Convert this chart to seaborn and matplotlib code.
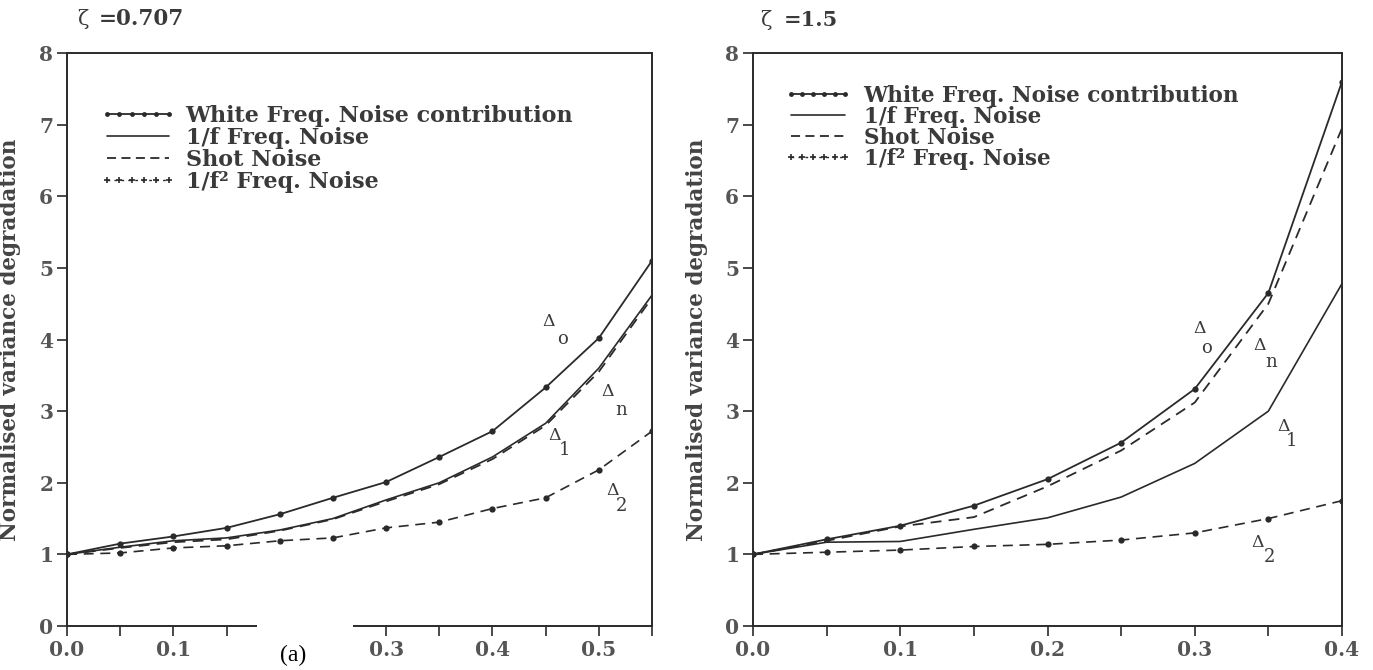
import numpy as np
import pandas as pd
import matplotlib
matplotlib.use("Agg")
import matplotlib.pyplot as plt
from matplotlib.lines import Line2D
from matplotlib.patches import Rectangle
from matplotlib.ticker import MultipleLocator
import seaborn as sns

# ---------------- data ----------------
x_left = [0.0, 0.05, 0.10, 0.15, 0.20, 0.25, 0.30, 0.35, 0.40, 0.45, 0.50, 0.55]
white_left = [1.0, 1.15, 1.25, 1.37, 1.56, 1.79, 2.01, 2.36, 2.72, 3.33, 4.02, 5.10]
inv_f_left = [1.0, 1.10, 1.19, 1.23, 1.34, 1.50, 1.76, 2.00, 2.36, 2.83, 3.60, 4.62]
shot_left = [1.0, 1.09, 1.17, 1.21, 1.33, 1.49, 1.74, 1.98, 2.33, 2.80, 3.55, 4.58]
inv_f2_left = [1.0, 1.02, 1.09, 1.12, 1.19, 1.23, 1.37, 1.45, 1.64, 1.79, 2.18, 2.72]

x_right = [0.0, 0.05, 0.10, 0.15, 0.20, 0.25, 0.30, 0.35, 0.40]
white_right = [1.0, 1.21, 1.40, 1.68, 2.05, 2.56, 3.31, 4.65, 7.60]
shot_right = [1.0, 1.19, 1.39, 1.52, 1.95, 2.45, 3.12, 4.50, 6.95]
inv_f_right = [1.0, 1.17, 1.18, 1.35, 1.51, 1.80, 2.27, 3.00, 4.78]
inv_f2_right = [1.0, 1.03, 1.06, 1.11, 1.14, 1.20, 1.30, 1.50, 1.75]

legend_labels = ["White Freq. Noise contribution", "1/f Freq. Noise",
                 "Shot Noise", "1/f\u00b2 Freq. Noise"]
titles = ["=0.707", "=1.5"]
ylabel = "Normalised variance degradation"
x_ticks_left = [0.0, 0.1, 0.2, 0.3, 0.4, 0.5]
x_ticklabels_left = ["0.0", "0.1", "", "0.3", "0.4", "0.5"]   # 0.2 hidden under the pasted "(a)"
x_ticks_right = [0.0, 0.1, 0.2, 0.3, 0.4]
x_ticklabels_right = ["0.0", "0.1", "0.2", "0.3", "0.4"]
y_ticks = [0, 1, 2, 3, 4, 5, 6, 7, 8]

# curve labels: (main symbol position, subscript, subscript position)
labels_left = [((0.453, 4.25), "o", (0.466, 4.00)),
               ((0.508, 3.27), "n", (0.521, 3.02)),
               ((0.458, 2.66), "1", (0.468, 2.46)),
               ((0.513, 1.89), "2", (0.521, 1.67))]
labels_right = [((0.303, 4.15), "o", (0.308, 3.88)),
                ((0.344, 3.92), "n", (0.352, 3.68)),
                ((0.360, 2.78), "1", (0.366, 2.58)),
                ((0.343, 1.17), "2", (0.351, 0.97))]

# ---------------- style ----------------
sns.set_style("ticks")
plt.rcParams["font.family"] = ["DejaVu Serif", "DejaVu Sans"]
INK = "#2a2a2a"
TXT = "#3a3a3a"

W, H = 1373, 670
fig = plt.figure(figsize=(W / 100, H / 100), dpi=100)
fig.patch.set_facecolor("white")

def fx(px):
    return px / W

def fy(py):
    return 1 - py / H

ax_l = fig.add_axes([fx(67), fy(626), fx(652 - 67), fy(53) - fy(626)])
ax_r = fig.add_axes([fx(753), fy(626), fx(1342 - 753), fy(53) - fy(626)])

dash = (0, (6, 4))

def draw(ax, x, white, inv_f, shot, inv_f2):
    df = pd.DataFrame({"x": x, "white": white, "inv_f": inv_f,
                       "shot": shot, "inv_f2": inv_f2})
    sns.lineplot(data=df, x="x", y="white", ax=ax, color=INK, lw=1.3,
                 marker="o", markersize=4.5, markeredgewidth=0, sort=False)
    sns.lineplot(data=df, x="x", y="inv_f", ax=ax, color=INK, lw=1.2, sort=False)
    sns.lineplot(data=df, x="x", y="shot", ax=ax, color=INK, lw=1.3,
                 linestyle=dash, sort=False)
    sns.lineplot(data=df, x="x", y="inv_f2", ax=ax, color=INK, lw=1.2,
                 linestyle=dash, marker="o", markersize=4.5,
                 markeredgewidth=0, sort=False)

draw(ax_l, x_left, white_left, inv_f_left, shot_left, inv_f2_left)
draw(ax_r, x_right, white_right, inv_f_right, shot_right, inv_f2_right)

for ax, xmax, xt, xtl, ylab_x in [(ax_l, 0.55, x_ticks_left, x_ticklabels_left, -0.078),
                                 (ax_r, 0.40, x_ticks_right, x_ticklabels_right, -0.077)]:
    ax.set_xlim(0, xmax)
    ax.set_ylim(0, 8)
    ax.set_xticks(xt)
    ax.set_xticklabels(xtl)
    ax.xaxis.set_minor_locator(MultipleLocator(0.05))
    ax.set_yticks(y_ticks)
    ax.set_yticklabels([str(t) for t in y_ticks])
    ax.tick_params(axis="both", which="both", direction="out", length=7,
                   width=1.2, color=INK, labelcolor="#555555",
                   labelsize=14.5, pad=3)
    for lab in ax.get_xticklabels() + ax.get_yticklabels():
        lab.set_fontweight("bold")
    for sp in ax.spines.values():
        sp.set_visible(True)
        sp.set_color(INK)
        sp.set_linewidth(1.4)
    ax.set_xlabel("")
    ax.set_ylabel(ylabel, fontsize=15.5, fontweight="bold", color="#444444")
    ax.yaxis.set_label_coords(ylab_x, 0.5)

# curve labels
for ax, labs in [(ax_l, labels_left), (ax_r, labels_right)]:
    for (mx, my), sub, (sx, sy) in labs:
        ax.text(mx, my, "\u0394", fontsize=12.5, color=TXT, ha="center", va="center")
        ax.text(sx, sy, sub, fontsize=13, color=TXT, ha="center", va="center")

# legends
def legend_handles():
    return [
        Line2D([], [], color=INK, lw=1.3, marker="o", markersize=3.5,
               markeredgewidth=0),
        Line2D([], [], color=INK, lw=1.2),
        Line2D([], [], color=INK, lw=1.3, linestyle=(0, (5, 3))),
        Line2D([], [], color=INK, lw=1.0, linestyle=(0, (2, 3)), marker="+",
               markersize=5, markeredgewidth=1.2),
    ]

leg_l = ax_l.legend(legend_handles(), legend_labels, loc="upper left",
                    bbox_to_anchor=(fx(100), fy(105)),
                    bbox_transform=fig.transFigure, frameon=False,
                    borderpad=0, borderaxespad=0, handlelength=3.4,
                    handletextpad=0.45, labelspacing=0.0, numpoints=6,
                    prop={"family": "DejaVu Serif", "weight": "bold",
                          "size": 16})
for t in leg_l.get_texts():
    t.set_color(TXT)

leg_r = ax_r.legend(legend_handles(), legend_labels, loc="upper left",
                    bbox_to_anchor=(fx(785), fy(85)),
                    bbox_transform=fig.transFigure, frameon=False,
                    borderpad=0, borderaxespad=0, handlelength=3.1,
                    handletextpad=0.55, labelspacing=-0.05, numpoints=6,
                    prop={"family": "DejaVu Serif", "weight": "bold",
                          "size": 15.5})
for t in leg_r.get_texts():
    t.set_color(TXT)

# panel headings
fig.text(fx(77), fy(19), "\u03b6", fontsize=15, color=TXT, ha="left", va="center")
fig.text(fx(99), fy(19), titles[0], fontsize=15.5, fontweight="bold", color=TXT,
         ha="left", va="center")
fig.text(fx(760), fy(20), "\u03b6", fontsize=15, color=TXT, ha="left", va="center")
fig.text(fx(784), fy(20), titles[1], fontsize=15, fontweight="bold", color=TXT,
         ha="left", va="center")

# pasted "(a)" caption with white patch over axis
fig.add_artist(Rectangle((fx(257), 0), fx(353) - fx(257), fy(622), transform=fig.transFigure,
                         facecolor="white", edgecolor="none", zorder=10))
fig.text(fx(293), fy(655), "(a)", family="Liberation Serif", fontsize=17,
         color="black", ha="center", va="center", zorder=11)

fig.savefig("out.png", dpi=100, facecolor="white")
